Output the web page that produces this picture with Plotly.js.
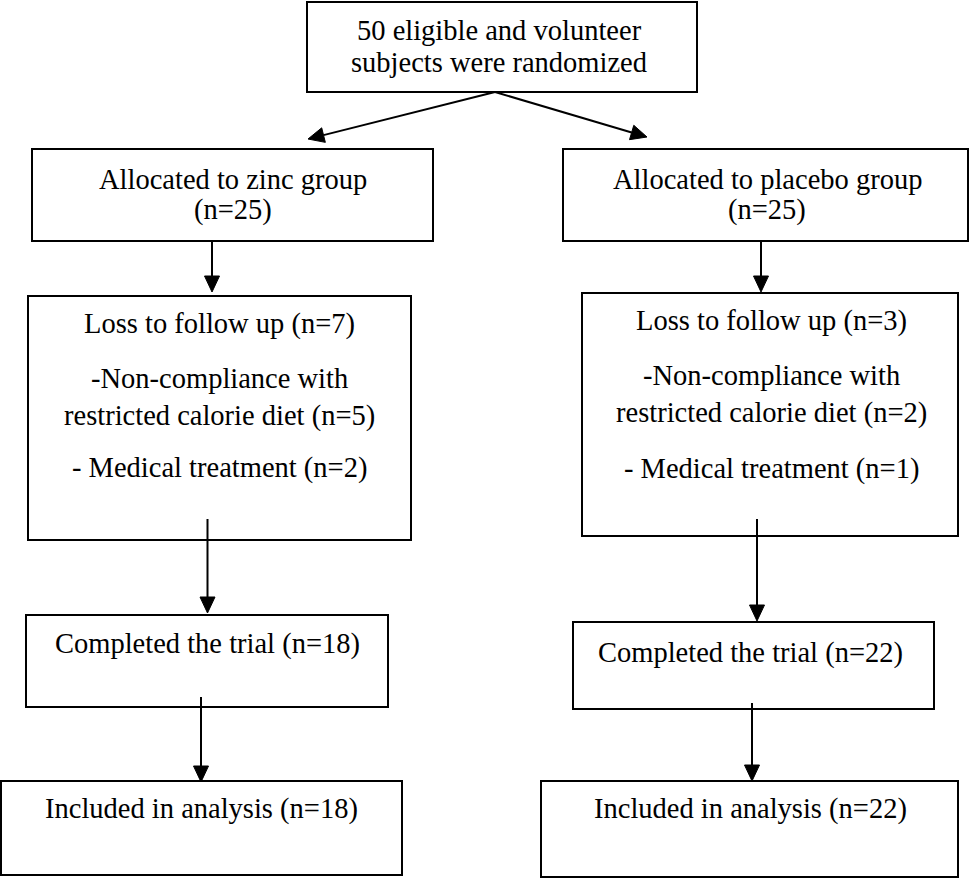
<!DOCTYPE html>
<html>
<head>
<meta charset="utf-8">
<script src="https://cdn.plot.ly/plotly-3.0.1.min.js"></script>
<style>
  html, body { margin: 0; padding: 0; background: #fff; }
  #chart { width: 969px; height: 878px; }
</style>
</head>
<body>
<div id="chart"></div>
<script>
// counts per group, in flow order
var totalN = 50;
var groups = ["zinc", "placebo"];
var allocatedN = [25, 25];
var lossN = [7, 3];
var nonComplianceN = [5, 2];
var medicalN = [2, 1];
var completedN = [18, 22];
var analysedN = [18, 22];

// box geometry (pixels, y down). lines: [text, y centre]
var boxes = [
  { x0: 307, x1: 697, y0: 2, y1: 92, cx: 499, lines: [
    [totalN + " eligible and volunteer", 30.5],
    ["subjects were randomized", 62]] }
];
var cols = [
  { alloc: [32, 433, 149, 241, 233], loss: [28, 411, 296, 540, 219.5], comp: [26, 388, 615, 707, 207], incl: [1, 402, 781, 875, 201],
    ly: [179, 210], lossY: [324, 378, 416, 468], compY: 643.5, inclY: 808.5 },
  { alloc: [563, 968, 149, 241, 767], loss: [582, 958, 293, 536, 771], comp: [573, 934, 622, 709, 750], incl: [541, 958, 781, 877, 750],
    ly: [179, 210], lossY: [321, 375.5, 412.5, 469], compY: 652.5, inclY: 809 }
];

for (var g = 0; g < groups.length; g++) {
  var c = cols[g];
  boxes.push({ x0: c.alloc[0], x1: c.alloc[1], y0: c.alloc[2], y1: c.alloc[3], cx: c.alloc[4], lines: [
    ["Allocated to " + groups[g] + " group", c.ly[0]],
    ["(n=" + allocatedN[g] + ")", c.ly[1]]] });
  boxes.push({ x0: c.loss[0], x1: c.loss[1], y0: c.loss[2], y1: c.loss[3], cx: c.loss[4], lines: [
    ["Loss to follow up (n=" + lossN[g] + ")", c.lossY[0]],
    ["-Non-compliance with", c.lossY[1]],
    ["restricted calorie diet (n=" + nonComplianceN[g] + ")", c.lossY[2]],
    ["- Medical treatment (n=" + medicalN[g] + ")", c.lossY[3]]] });
  boxes.push({ x0: c.comp[0], x1: c.comp[1], y0: c.comp[2], y1: c.comp[3], cx: c.comp[4], lines: [
    ["Completed the trial (n=" + completedN[g] + ")", c.compY]] });
  boxes.push({ x0: c.incl[0], x1: c.incl[1], y0: c.incl[2], y1: c.incl[3], cx: c.incl[4], lines: [
    ["Included in analysis (n=" + analysedN[g] + ")", c.inclY]] });
}

// arrows: [x start, y start, x tip, y tip]
var arrows = [
  [495, 92, 308, 139],
  [495, 92, 647, 137],
  [212, 241, 212, 292],
  [761, 241, 761, 292],
  [207.5, 519, 207.5, 613],
  [757, 519, 757, 621],
  [201, 697, 201, 782],
  [752, 703, 752, 781]
];

var shapes = [];
var annotations = [];
var ink = "#000";
var font = { family: "Liberation Serif, Times New Roman, serif", size: 28.5, color: ink };

boxes.forEach(function (b) {
  shapes.push({ type: "rect", xref: "x", yref: "y", x0: b.x0, x1: b.x1, y0: b.y0, y1: b.y1,
    line: { color: ink, width: 2 }, fillcolor: "rgba(0,0,0,0)" });
  b.lines.forEach(function (l) {
    annotations.push({ xref: "x", yref: "y", x: b.cx, y: l[1], text: l[0], showarrow: false,
      xanchor: "center", yanchor: "middle", font: font });
  });
});

var headLen = 16, headHalf = 7.5;
arrows.forEach(function (a) {
  var dx = a[2] - a[0], dy = a[3] - a[1];
  var len = Math.sqrt(dx * dx + dy * dy);
  var ux = dx / len, uy = dy / len;
  var bx = a[2] - ux * headLen, by = a[3] - uy * headLen;
  shapes.push({ type: "line", xref: "x", yref: "y", x0: a[0], y0: a[1], x1: bx, y1: by,
    line: { color: ink, width: 2 } });
  var p1x = bx - uy * headHalf, p1y = by + ux * headHalf;
  var p2x = bx + uy * headHalf, p2y = by - ux * headHalf;
  shapes.push({ type: "path", xref: "x", yref: "y",
    path: "M" + a[2] + "," + a[3] + " L" + p1x + "," + p1y + " L" + p2x + "," + p2y + " Z",
    fillcolor: ink, line: { color: ink, width: 1 } });
});

var layout = {
  width: 969,
  height: 878,
  margin: { l: 0, r: 0, t: 0, b: 0 },
  paper_bgcolor: "#fff",
  plot_bgcolor: "#fff",
  showlegend: false,
  xaxis: { range: [0, 969], visible: false, fixedrange: true },
  yaxis: { range: [878, 0], visible: false, fixedrange: true },
  shapes: shapes,
  annotations: annotations
};

Plotly.newPlot("chart", [], layout, { staticPlot: true });
</script>
</body>
</html>
